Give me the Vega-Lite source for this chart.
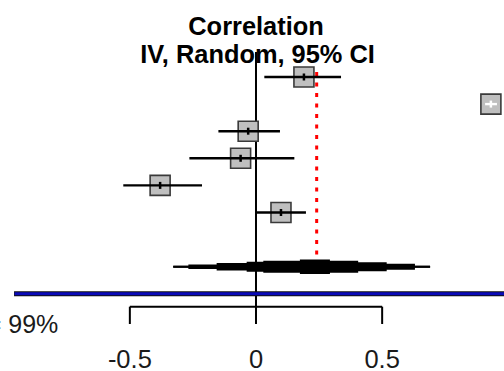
{
  "$schema": "https://vega.github.io/schema/vega-lite/v6.json",
  "width": 504,
  "height": 371,
  "autosize": "none",
  "padding": 0,
  "background": "white",
  "config": {"view": {"stroke": null}, "font": "Liberation Sans"},
  "datasets": {
    "studies": [
      {"study": "Study 1", "row": 1, "est": 0.190, "lo": 0.033, "hi": 0.337},
      {"study": "Study 2", "row": 2, "est": 0.931, "lo": 0.908, "hi": 0.955},
      {"study": "Study 3", "row": 3, "est": -0.031, "lo": -0.149, "hi": 0.095},
      {"study": "Study 4", "row": 4, "est": -0.061, "lo": -0.264, "hi": 0.152},
      {"study": "Study 5", "row": 5, "est": -0.380, "lo": -0.526, "hi": -0.214},
      {"study": "Study 6", "row": 6, "est": 0.099, "lo": 0.003, "hi": 0.198}
    ],
    "diamond": [
      {"x": -0.328, "y": 7.963, "y2": 8.037},
      {"x": -0.268, "y": 7.919, "y2": 8.081},
      {"x": -0.156, "y": 7.863, "y2": 8.137},
      {"x": -0.037, "y": 7.815, "y2": 8.185},
      {"x": 0.029, "y": 7.779, "y2": 8.221},
      {"x": 0.174, "y": 7.731, "y2": 8.269},
      {"x": 0.293, "y": 7.779, "y2": 8.221},
      {"x": 0.405, "y": 7.834, "y2": 8.166},
      {"x": 0.518, "y": 7.889, "y2": 8.111},
      {"x": 0.630, "y": 7.963, "y2": 8.037},
      {"x": 0.690, "y": 7.963, "y2": 8.037}
    ],
    "ticks": [
      {"v": -0.5, "label": "-0.5", "y": 9.476, "y2": 10.114, "ly": 11.738},
      {"v": 0, "label": "0", "y": 9.476, "y2": 10.114, "ly": 11.738},
      {"v": 0.5, "label": "0.5", "y": 9.476, "y2": 10.114, "ly": 11.738}
    ]
  },
  "encoding": {},
  "layer": [
    {
      "data": {"values": [{"x": 0, "y": 0.0775, "y2": 10.114}]},
      "mark": {"type": "rule", "color": "black", "strokeWidth": 2},
      "encoding": {
        "x": {"field": "x", "type": "quantitative", "scale": {"domain": [-1.01466, 0.98296], "nice": false, "zero": false}, "axis": null},
        "y": {"field": "y", "type": "quantitative", "scale": {"domain": [-1.841, 11.849], "reverse": true, "nice": false, "zero": false}, "axis": null},
        "y2": {"field": "y2"}
      }
    },
    {
      "data": {"values": [{"x": 0.2405, "y": 0.815, "y2": 7.64}]},
      "mark": {"type": "rule", "color": "#ff0000", "strokeWidth": 3, "strokeDash": [4, 6.5]},
      "encoding": {
        "x": {"field": "x", "type": "quantitative"},
        "y": {"field": "y", "type": "quantitative"},
        "y2": {"field": "y2"}
      }
    },
    {
      "data": {"values": [{"x": -0.959, "x2": 1.0, "y": 9}]},
      "mark": {"type": "rule", "color": "#111111", "strokeWidth": 5},
      "encoding": {
        "x": {"field": "x", "type": "quantitative"},
        "x2": {"field": "x2"},
        "y": {"field": "y", "type": "quantitative"}
      }
    },
    {
      "data": {"values": [{"x": -0.957, "x2": 1.0, "y": 9}]},
      "mark": {"type": "rule", "color": "#0a0ab8", "strokeWidth": 3},
      "encoding": {
        "x": {"field": "x", "type": "quantitative"},
        "x2": {"field": "x2"},
        "y": {"field": "y", "type": "quantitative"}
      }
    },
    {
      "data": {"values": [{"x": -0.5, "x2": 0.5, "y": 9.476}]},
      "mark": {"type": "rule", "color": "black", "strokeWidth": 2},
      "encoding": {
        "x": {"field": "x", "type": "quantitative"},
        "x2": {"field": "x2"},
        "y": {"field": "y", "type": "quantitative"}
      }
    },
    {
      "data": {"name": "ticks"},
      "mark": {"type": "rule", "color": "black", "strokeWidth": 2},
      "encoding": {
        "x": {"field": "v", "type": "quantitative"},
        "y": {"field": "y", "type": "quantitative"},
        "y2": {"field": "y2"}
      }
    },
    {
      "data": {"name": "ticks"},
      "mark": {"type": "text", "fontSize": 25.5, "align": "center", "baseline": "alphabetic", "color": "#1a1a1a", "font": "Liberation Sans"},
      "encoding": {
        "x": {"field": "v", "type": "quantitative"},
        "y": {"field": "ly", "type": "quantitative"},
        "text": {"field": "label"}
      }
    },
    {
      "data": {"values": [{"x": -0.7836, "y": 10.446, "label": "I² = 99%"}]},
      "mark": {"type": "text", "fontSize": 25, "align": "right", "baseline": "alphabetic", "color": "#1a1a1a", "font": "Liberation Sans"},
      "encoding": {
        "x": {"field": "x", "type": "quantitative"},
        "y": {"field": "y", "type": "quantitative"},
        "text": {"field": "label"}
      }
    },
    {
      "data": {"values": [{"x": 0, "y": -0.55, "label": "Correlation"}, {"x": 0.006, "y": 0.502, "label": "IV, Random, 95% CI"}]},
      "mark": {"type": "text", "fontSize": 25.4, "fontWeight": "bold", "align": "center", "baseline": "alphabetic", "color": "black", "font": "Liberation Sans"},
      "encoding": {
        "x": {"field": "x", "type": "quantitative"},
        "y": {"field": "y", "type": "quantitative"},
        "text": {"field": "label"}
      }
    },
    {
      "data": {"values": [{"x": -0.328, "x2": 0.690, "y": 8}]},
      "mark": {"type": "rule", "color": "black", "strokeWidth": 2},
      "encoding": {
        "x": {"field": "x", "type": "quantitative"},
        "x2": {"field": "x2"},
        "y": {"field": "y", "type": "quantitative"}
      }
    },
    {
      "data": {"name": "diamond"},
      "mark": {"type": "area", "color": "black", "interpolate": "step-after", "orient": "vertical"},
      "encoding": {
        "x": {"field": "x", "type": "quantitative"},
        "y": {"field": "y", "type": "quantitative"},
        "y2": {"field": "y2"}
      }
    },
    {
      "data": {"name": "studies"},
      "mark": {"type": "point", "shape": "square", "filled": true, "fill": "#bfbfbf", "stroke": "#3a3a3a", "strokeWidth": 1.6, "size": 400, "opacity": 1},
      "encoding": {
        "x": {"field": "est", "type": "quantitative"},
        "y": {"field": "row", "type": "quantitative"}
      }
    },
    {
      "data": {"name": "studies"},
      "mark": {"type": "rule", "strokeWidth": 2.4},
      "encoding": {
        "x": {"field": "lo", "type": "quantitative"},
        "x2": {"field": "hi"},
        "y": {"field": "row", "type": "quantitative"},
        "color": {"condition": {"test": "datum.hi - datum.lo < 0.1", "value": "white"}, "value": "black"}
      }
    },
    {
      "data": {"name": "studies"},
      "mark": {"type": "tick", "orient": "vertical", "size": 7, "thickness": 2.5, "opacity": 1},
      "encoding": {
        "x": {"field": "est", "type": "quantitative"},
        "y": {"field": "row", "type": "quantitative"},
        "color": {"condition": {"test": "datum.hi - datum.lo < 0.1", "value": "white"}, "value": "black"}
      }
    }
  ]
}
